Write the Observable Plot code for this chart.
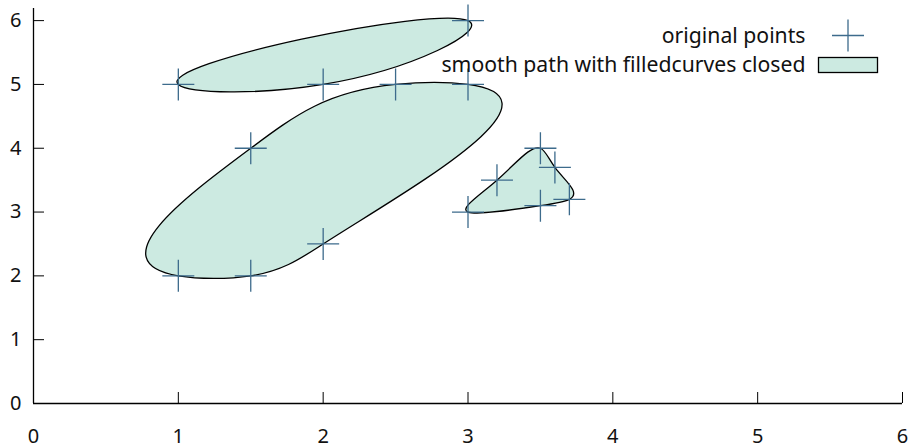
<!DOCTYPE html>
<html>
<head>
<meta charset="utf-8">
<script src="https://cdn.jsdelivr.net/npm/d3@7"></script>
<script src="https://cdn.jsdelivr.net/npm/@observablehq/plot@0.6"></script>
<style>
  html, body { margin: 0; padding: 0; background: #fff; }
  #chart { width: 912px; height: 443px; }
</style>
</head>
<body>
<div id="chart"></div>
<script>
// Closed paths (order along the path)
const shapeA = [[1, 5], [2, 5], [3, 6]];
const shapeB = [[1, 2], [1.5, 2], [2, 2.5], [3, 5], [2.5, 5], [1.5, 4]];
const shapeC = [[3, 3], [3.2, 3.5], [3.5, 4], [3.6, 3.7], [3.7, 3.2], [3.5, 3.1]];
const xTicks = [0, 1, 2, 3, 4, 5, 6];
const yTicks = [0, 1, 2, 3, 4, 5, 6];
const legendLabels = ["original points", "smooth path with filledcurves closed"];

const fillColor = "#cceae1";
const pointColor = "#3d6b8c";

const W = 912, H = 443, ML = 33, MR = 10, MT = 8, MB = 40;
const xDomain = [0, 6], yDomain = [0, 6.19];
const kx = (W - ML - MR) / (xDomain[1] - xDomain[0]);
const ky = (H - MT - MB) / (yDomain[1] - yDomain[0]);

const points = [
  ...shapeA.map(([x, y]) => ({shape: "A", x, y})),
  ...shapeB.map(([x, y]) => ({shape: "B", x, y})),
  ...shapeC.map(([x, y]) => ({shape: "C", x, y}))
];

// closed (periodic) cubic spline curve factory, parameterized by path length in data units
function pathSpline(wx, wy) {
  return function(context) {
    let pts = [];
    return {
      areaStart() {}, areaEnd() {},
      lineStart() { pts = []; },
      point(x, y) { pts.push([+x, +y]); },
      lineEnd() {
        const n = pts.length;
        if (n < 2) return;
        const h = [];
        for (let i = 0; i < n; i++) {
          const a = pts[i], b = pts[(i + 1) % n];
          h.push(Math.hypot((b[0] - a[0]) * wx, (b[1] - a[1]) * wy));
        }
        const solve = (dim) => {
          const A = Array.from({length: n}, () => new Array(n + 1).fill(0));
          for (let i = 0; i < n; i++) {
            const im = (i - 1 + n) % n, ip = (i + 1) % n;
            const hm = h[im], hi = h[i];
            A[i][im] += hm; A[i][i] += 2 * (hm + hi); A[i][ip] += hi;
            A[i][n] = 6 * ((pts[ip][dim] - pts[i][dim]) / hi - (pts[i][dim] - pts[im][dim]) / hm);
          }
          for (let c = 0; c < n; c++) {
            let p = c;
            for (let r = c + 1; r < n; r++) if (Math.abs(A[r][c]) > Math.abs(A[p][c])) p = r;
            [A[c], A[p]] = [A[p], A[c]];
            for (let r = 0; r < n; r++) {
              if (r === c) continue;
              const f = A[r][c] / A[c][c];
              for (let k = c; k <= n; k++) A[r][k] -= f * A[c][k];
            }
          }
          return A.map((row, i) => row[n] / row[i]);
        };
        const M = [solve(0), solve(1)];
        context.moveTo(pts[0][0], pts[0][1]);
        for (let i = 0; i < n; i++) {
          const j = (i + 1) % n, hi = h[i];
          const c = [0, 1].map(d => {
            const s = (pts[j][d] - pts[i][d]) / hi;
            const d0 = s - hi * (2 * M[d][i] + M[d][j]) / 6;
            const d1 = s + hi * (M[d][i] + 2 * M[d][j]) / 6;
            return [pts[i][d] + d0 * hi / 3, pts[j][d] - d1 * hi / 3];
          });
          context.bezierCurveTo(c[0][0], c[1][0], c[0][1], c[1][1], pts[j][0], pts[j][1]);
        }
        context.closePath();
      }
    };
  };
}

const plusSymbol = {
  draw(ctx, size) {
    const r = Math.sqrt(size / Math.PI);
    ctx.moveTo(-r, 0); ctx.lineTo(r, 0);
    ctx.moveTo(0, -r); ctx.lineTo(0, r);
  }
};

const chart = Plot.plot({
  width: W, height: H,
  marginLeft: ML, marginRight: MR, marginTop: MT, marginBottom: MB,
  style: {fontSize: "20px", fontFamily: "Noto Sans, sans-serif", color: "#000", background: "#fff"},
  x: {domain: xDomain, label: null},
  y: {domain: yDomain, label: null},
  marks: [
    Plot.line(points, {x: "x", y: "y", z: "shape", curve: pathSpline(1 / kx, 1 / ky), fill: fillColor, stroke: "black", strokeWidth: 1.3}),
    Plot.dot(points, {x: "x", y: "y", symbol: plusSymbol, r: 16, stroke: pointColor, strokeWidth: 1.3, fill: "none"}),
    Plot.ruleX([0], {stroke: "black", strokeWidth: 1.3}),
    Plot.ruleY([0], {stroke: "black", strokeWidth: 1.3}),
    Plot.axisX(xTicks, {tickSize: -11, text: null, stroke: "black"}),
    Plot.axisY(yTicks, {tickSize: -11, text: null, stroke: "black"}),
    Plot.axisX(xTicks, {tickSize: 0, tickPadding: 25, tickFormat: "d", fontSize: 20, fill: "#111", label: null}),
    Plot.axisY(yTicks, {tickSize: 0, tickPadding: 12, tickFormat: "d", fontSize: 20, fill: "#111", label: null}),
    Plot.text([legendLabels[0]], {frameAnchor: "top-right", text: d => d, textAnchor: "end", lineAnchor: "middle", dx: -97, dy: 28, fontSize: 21.2, fill: "#111"}),
    Plot.text([legendLabels[1]], {frameAnchor: "top-right", text: d => d, textAnchor: "end", lineAnchor: "middle", dx: -97, dy: 57, fontSize: 21.2, fill: "#111"}),
    Plot.dot([legendLabels[0]], {frameAnchor: "top-right", dx: -54.5, dy: 27, symbol: plusSymbol, r: 16, stroke: pointColor, strokeWidth: 1.3, fill: "none"}),
    Plot.frame({fill: fillColor, stroke: "black", strokeWidth: 1.3, insetLeft: 785, insetRight: 25, insetTop: 49, insetBottom: 331})
  ]
});
document.getElementById("chart").appendChild(chart);
</script>
</body>
</html>
